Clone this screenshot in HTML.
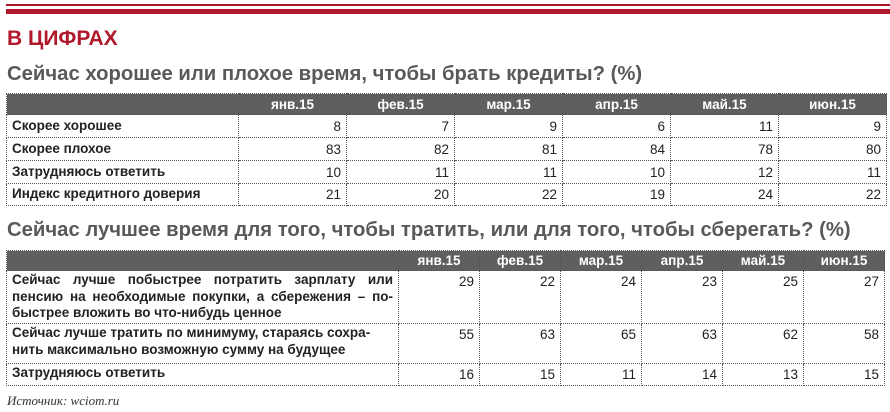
<!DOCTYPE html>
<html><head><meta charset="utf-8"><style>
*{margin:0;padding:0;box-sizing:border-box}
body{width:890px;height:412px;background:#fff;position:relative;overflow:hidden;font-family:"Liberation Sans","DejaVu Sans",sans-serif;color:#222}
.a{position:absolute;white-space:nowrap}
table{position:absolute;border-collapse:collapse;table-layout:fixed}
td,th{border:1px dotted #555;font-size:13.5px;padding:0 5px;text-align:right;vertical-align:middle}
th{background:#5f5f61;color:#fff;font-weight:bold;text-align:center}
td.l{text-align:left;font-weight:bold;font-size:13.5px;line-height:16.5px}
.t2 td{vertical-align:top;padding-top:3px}
.t2 td.l{padding-top:1px}
</style></head><body>
<div class="a" style="left:6px;top:4px;width:884px;height:2px;background:#b0192b"></div>
<div class="a" style="left:6px;top:9px;width:884px;height:5px;background:#b0192b"></div>
<div class="a" style="left:7px;top:27px;font-size:21px;font-weight:bold;color:#b0192b">В ЦИФРАХ</div>
<div class="a" style="left:7px;top:63px;font-size:20.3px;font-weight:bold;color:#58595b">Сейчас хорошее или плохое время, чтобы брать кредиты? (%)</div>
<table style="left:6px;top:93px;width:880px">
<colgroup><col style="width:232px"><col span="6" style="width:108px"></colgroup>
<tr style="height:21px"><th></th><th>янв.15</th><th>фев.15</th><th>мар.15</th><th>апр.15</th><th>май.15</th><th>июн.15</th></tr>
<tr style="height:23px"><td class="l">Скорее хорошее</td><td>8</td><td>7</td><td>9</td><td>6</td><td>11</td><td>9</td></tr>
<tr style="height:23px"><td class="l">Скорее плохое</td><td>83</td><td>82</td><td>81</td><td>84</td><td>78</td><td>80</td></tr>
<tr style="height:23px"><td class="l">Затрудняюсь ответить</td><td>10</td><td>11</td><td>11</td><td>10</td><td>12</td><td>11</td></tr>
<tr style="height:22px"><td class="l">Индекс кредитного доверия</td><td>21</td><td>20</td><td>22</td><td>19</td><td>24</td><td>22</td></tr>
</table>
<div class="a" style="left:7px;top:219px;font-size:20.3px;font-weight:bold;color:#58595b">Сейчас лучшее время для того, чтобы тратить, или для того, чтобы сберегать? (%)</div>
<table class="t2" style="left:6px;top:250px;width:879px">
<colgroup><col style="width:392px"><col span="6" style="width:81px"></colgroup>
<tr style="height:20px"><th></th><th>янв.15</th><th>фев.15</th><th>мар.15</th><th>апр.15</th><th>май.15</th><th>июн.15</th></tr>
<tr style="height:53px"><td class="l" style="text-align:justify">Сейчас лучше побыстрее потратить зарплату или пенсию на необходимые покупки, а сбережения – по&shy;быстрее вложить во что-нибудь ценное</td><td>29</td><td>22</td><td>24</td><td>23</td><td>25</td><td>27</td></tr>
<tr style="height:40px"><td class="l">Сейчас лучше тратить по минимуму, стараясь сохра&shy;нить максимально возможную сумму на будущее</td><td>55</td><td>63</td><td>65</td><td>63</td><td>62</td><td>58</td></tr>
<tr style="height:22px"><td class="l">Затрудняюсь ответить</td><td>16</td><td>15</td><td>11</td><td>14</td><td>13</td><td>15</td></tr>
</table>
<div class="a" style="left:7px;top:393px;font-size:13px;font-style:italic;font-family:'Liberation Serif',serif;color:#333">Источник: wciom.ru</div>
</body></html>
